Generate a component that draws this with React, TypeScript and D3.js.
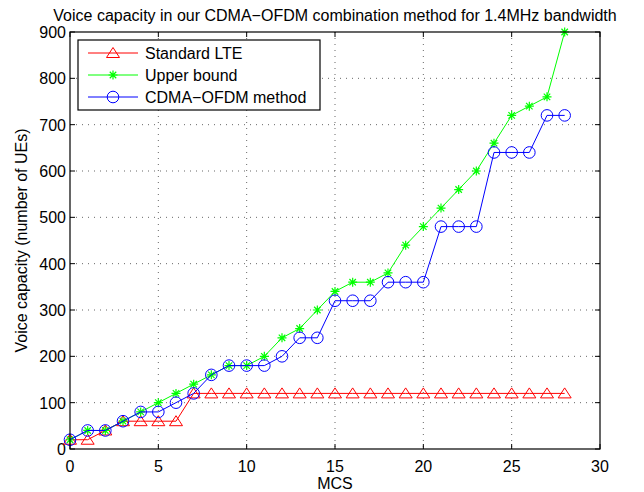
import * as d3 from "d3";
import { useEffect, useRef } from "react";

const mcs = d3.range(0, 29);
const standardLte = [20, 20, 40, 60, 60, 60, 60, 120, 120, 120, 120, 120, 120, 120, 120, 120, 120, 120, 120, 120, 120, 120, 120, 120, 120, 120, 120, 120, 120];
const upperBound = [20, 40, 40, 60, 80, 100, 120, 140, 160, 180, 180, 200, 240, 260, 300, 340, 360, 360, 380, 440, 480, 520, 560, 600, 660, 720, 740, 760, 900];
const cdmaOfdm = [20, 40, 40, 60, 80, 80, 100, 120, 160, 180, 180, 180, 200, 240, 240, 320, 320, 320, 360, 360, 360, 480, 480, 480, 640, 640, 640, 720, 720];
const xTicks = [0, 5, 10, 15, 20, 25, 30];
const yTicks = [0, 100, 200, 300, 400, 500, 600, 700, 800, 900];

const series = [
  { name: "Standard LTE", values: standardLte, color: "#ff0000", marker: "triangle" },
  { name: "Upper bound", values: upperBound, color: "#00ff00", marker: "star" },
  { name: "CDMA\u2212OFDM method", values: cdmaOfdm, color: "#0000ff", marker: "circle" },
];

const width = 644;
const height = 492;
const margin = { top: 32, right: 44, bottom: 43, left: 70 };
const font = "'Liberation Sans', Arial, Helvetica, sans-serif";

function drawMarker(g: any, kind: string, x: number, y: number, color: string) {
  if (kind === "triangle") {
    const s = 6.5;
    g.append("path")
      .attr("d", `M${x},${y - 5.5}L${x + s},${y + 4.5}L${x - s},${y + 4.5}Z`)
      .attr("fill", "none")
      .attr("stroke", color)
      .attr("stroke-width", 1);
  } else if (kind === "circle") {
    g.append("circle")
      .attr("cx", x)
      .attr("cy", y)
      .attr("r", 5.8)
      .attr("fill", "none")
      .attr("stroke", color)
      .attr("stroke-width", 1);
  } else {
    const s = 4.5;
    const d = s * 0.72;
    g.append("path")
      .attr("d", `M${x},${y - s}V${y + s}M${x - s},${y}H${x + s}M${x - d},${y - d}L${x + d},${y + d}M${x - d},${y + d}L${x + d},${y - d}`)
      .attr("stroke", color)
      .attr("stroke-width", 1.2);
  }
}

export default function App() {
  const svgRef = useRef<SVGSVGElement>(null);

  useEffect(() => {
    if (!svgRef.current) return;
    const svg = d3.select(svgRef.current);
    svg.selectAll("*").remove();

    const innerWidth = width - margin.left - margin.right;
    const innerHeight = height - margin.top - margin.bottom;

    const x = d3.scaleLinear().domain([0, 30]).range([0, innerWidth]);
    const y = d3.scaleLinear().domain([0, 900]).range([innerHeight, 0]);

    svg.append("rect").attr("width", width).attr("height", height).attr("fill", "white");

    const g = svg.append("g").attr("transform", `translate(${margin.left},${margin.top})`);

    // Grid
    g.append("g")
      .selectAll("line")
      .data(xTicks.slice(1, -1))
      .enter()
      .append("line")
      .attr("x1", (d) => x(d))
      .attr("x2", (d) => x(d))
      .attr("y1", 0)
      .attr("y2", innerHeight)
      .attr("stroke", "#000")
      .attr("stroke-width", 0.6)
      .attr("stroke-dasharray", "1,5");
    g.append("g")
      .selectAll("line")
      .data(yTicks.slice(1, -1))
      .enter()
      .append("line")
      .attr("x1", 0)
      .attr("x2", innerWidth)
      .attr("y1", (d) => y(d))
      .attr("y2", (d) => y(d))
      .attr("stroke", "#000")
      .attr("stroke-width", 0.6)
      .attr("stroke-dasharray", "1,5");

    // Ticks (inward, all four sides)
    const tickLen = 5;
    xTicks.forEach((t) => {
      g.append("line").attr("x1", x(t)).attr("x2", x(t)).attr("y1", innerHeight).attr("y2", innerHeight - tickLen).attr("stroke", "#000");
      g.append("line").attr("x1", x(t)).attr("x2", x(t)).attr("y1", 0).attr("y2", tickLen).attr("stroke", "#000");
      g.append("text")
        .attr("x", x(t))
        .attr("y", innerHeight + 23)
        .attr("text-anchor", "middle")
        .style("font-family", font)
        .style("font-size", "16px")
        .text(t);
    });
    yTicks.forEach((t) => {
      g.append("line").attr("x1", 0).attr("x2", tickLen).attr("y1", y(t)).attr("y2", y(t)).attr("stroke", "#000");
      g.append("line").attr("x1", innerWidth).attr("x2", innerWidth - tickLen).attr("y1", y(t)).attr("y2", y(t)).attr("stroke", "#000");
      g.append("text")
        .attr("x", -4)
        .attr("y", y(t) + 6)
        .attr("text-anchor", "end")
        .style("font-family", font)
        .style("font-size", "16px")
        .text(t);
    });

    // Series
    series.forEach((s) => {
      const line = d3
        .line<number>()
        .x((_, i) => x(mcs[i]))
        .y((d) => y(d));
      g.append("path")
        .datum(s.values)
        .attr("d", line)
        .attr("fill", "none")
        .attr("stroke", s.color)
        .attr("stroke-width", 1);
      const mg = g.append("g");
      s.values.forEach((v, i) => drawMarker(mg, s.marker, x(mcs[i]), y(v), s.color));
    });

    // Axes box
    g.append("rect")
      .attr("width", innerWidth)
      .attr("height", innerHeight)
      .attr("fill", "none")
      .attr("stroke", "#000")
      .attr("stroke-width", 1.2);

    // Legend
    const legend = g.append("g").attr("transform", "translate(8,8)");
    legend
      .append("rect")
      .attr("width", 242)
      .attr("height", 70)
      .attr("fill", "white")
      .attr("stroke", "#000")
      .attr("stroke-width", 1.2);
    series.forEach((s, i) => {
      const ly = 13 + i * 22;
      legend.append("line").attr("x1", 10).attr("x2", 60).attr("y1", ly).attr("y2", ly).attr("stroke", s.color);
      drawMarker(legend, s.marker, 35, ly, s.color);
      legend
        .append("text")
        .attr("x", 67)
        .attr("y", ly + 6)
        .style("font-family", font)
        .style("font-size", "16px")
        .text(s.name);
    });

    // Title and labels
    svg
      .append("text")
      .attr("x", margin.left + innerWidth / 2)
      .attr("y", 21)
      .attr("text-anchor", "middle")
      .style("font-family", font)
      .style("font-size", "16px")
      .text("Voice capacity in our CDMA\u2212OFDM combination method for 1.4MHz bandwidth");

    svg
      .append("text")
      .attr("transform", "rotate(-90)")
      .attr("x", -(margin.top + innerHeight / 2))
      .attr("y", 27)
      .attr("text-anchor", "middle")
      .style("font-family", font)
      .style("font-size", "16px")
      .text("Voice capacity (number of UEs)");

    svg
      .append("text")
      .attr("x", margin.left + innerWidth / 2)
      .attr("y", height - 3)
      .attr("text-anchor", "middle")
      .style("font-family", font)
      .style("font-size", "16px")
      .text("MCS");
  }, []);

  return (
    <div style={{ position: "absolute", left: 0, top: 0 }}>
      <svg ref={svgRef} width={width} height={height} style={{ display: "block" }} />
    </div>
  );
}
